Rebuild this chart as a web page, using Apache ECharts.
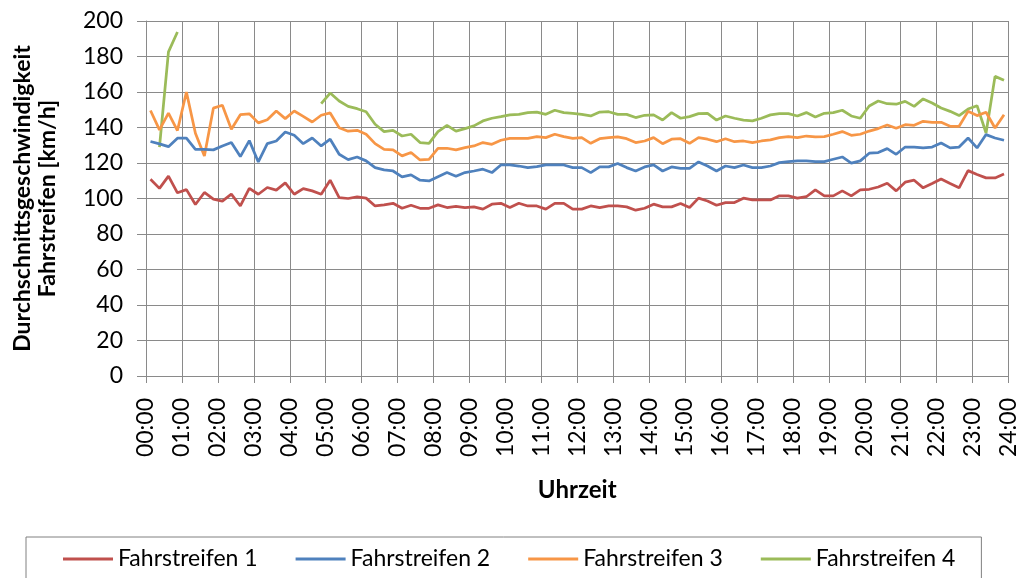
<!DOCTYPE html>
<html>
<head>
<meta charset="utf-8">
<script src="https://cdn.jsdelivr.net/npm/echarts@6/dist/echarts.min.js"></script>
<style>
  html, body { margin: 0; padding: 0; background: #fff; }
  #chart { width: 1020px; height: 578px; }
</style>
</head>
<body>
<div id="chart"></div>
<script>
// Series names
const seriesNames = ['Fahrstreifen 1', 'Fahrstreifen 2', 'Fahrstreifen 3', 'Fahrstreifen 4'];
// 96 quarter-hour intervals (00:00-00:15 ... 23:45-24:00), plotted at interval midpoints
const slotHours = 0.25;
const hourTicks = [0, 24, 1]; // min, max, step of the time axis (hours)

const fahrstreifen1 = [
  110.8, 105.7, 112.6, 103.2, 105.0, 96.6, 103.4, 99.6, 98.5, 102.5, 95.8, 105.7,
  102.4, 106.2, 104.7, 108.8, 102.4, 105.6, 104.3, 102.4, 110.3, 100.5, 100.0, 100.9,
  100.2, 95.8, 96.4, 97.3, 94.5, 96.2, 94.5, 94.5, 96.4, 94.9, 95.5, 94.9,
  95.3, 94.0, 96.8, 97.3, 94.9, 97.3, 95.8, 95.8, 94.0, 97.3, 97.3, 94.0,
  94.0, 95.8, 94.9, 95.8, 95.8, 95.3, 93.4, 94.5, 96.8, 95.3, 95.3, 97.2,
  94.9, 100.2, 98.6, 96.2, 97.7, 97.7, 100.2, 99.2, 99.2, 99.2, 101.5, 101.5,
  100.2, 101.0, 104.9, 101.5, 101.5, 104.3, 101.5, 104.9, 105.2, 106.5, 108.6, 104.3,
  109.2, 110.3, 106.0, 108.4, 111.0, 108.4, 106.0, 115.7, 113.5, 111.6, 111.6, 113.8
];
const fahrstreifen2 = [
  132.1, 130.8, 129.2, 134.0, 134.0, 127.7, 127.7, 127.4, 129.6, 131.5, 123.6, 132.6,
  120.6, 130.9, 132.4, 137.5, 135.6, 130.9, 134.1, 129.6, 133.4, 124.9, 121.9, 123.4,
  121.2, 117.4, 116.1, 115.5, 112.2, 113.3, 110.3, 109.9, 112.3, 114.6, 112.5, 114.6,
  115.5, 116.5, 114.6, 118.9, 118.9, 118.3, 117.4, 118.0, 118.9, 118.9, 118.9, 117.4,
  117.4, 114.6, 117.8, 117.8, 119.7, 117.4, 115.5, 117.8, 118.9, 115.5, 117.8, 117.0,
  117.0, 120.6, 118.3, 115.5, 118.3, 117.4, 118.9, 117.4, 117.4, 118.3, 120.2, 120.8,
  121.2, 121.2, 120.8, 120.8, 122.1, 123.4, 119.9, 121.2, 125.5, 125.9, 128.1, 124.9,
  129.0, 129.0, 128.5, 129.0, 131.3, 128.5, 129.0, 134.1, 128.5, 136.0, 134.1, 132.8
];
const fahrstreifen3 = [
  149.6, 138.7, 148.1, 138.3, 160.0, 136.8, 124.0, 150.9, 152.5, 139.0, 147.2, 147.7,
  142.6, 144.4, 149.3, 145.0, 149.3, 146.3, 143.1, 146.9, 148.2, 139.9, 137.9, 138.4,
  136.2, 130.9, 127.7, 127.4, 124.0, 125.9, 121.7, 122.1, 128.3, 128.3, 127.4, 128.7,
  129.6, 131.5, 130.5, 132.8, 133.9, 133.9, 133.9, 134.9, 134.3, 136.2, 134.9, 133.9,
  134.3, 131.1, 133.7, 134.3, 134.7, 133.7, 131.5, 132.4, 134.3, 130.9, 133.4, 133.7,
  131.1, 134.3, 133.4, 132.0, 133.7, 132.0, 132.4, 131.5, 132.4, 133.0, 134.3, 134.9,
  134.3, 135.2, 134.7, 134.9, 136.2, 137.7, 135.6, 136.2, 138.0, 139.4, 141.4, 139.6,
  141.6, 141.2, 143.5, 142.9, 142.9, 140.7, 140.7, 149.1, 146.7, 148.6, 139.7, 147.2
];
const fahrstreifen4 = [
  null, 128.9, 182.6, 193.8, null, null, null, null, null, null, null, null,
  null, null, null, null, null, null, null, 153.4, 159.4, 154.9, 151.9, 150.6,
  148.9, 141.8, 137.7, 138.4, 135.2, 136.2, 131.5, 131.1, 137.7, 141.2, 138.0, 139.4,
  140.9, 143.7, 145.2, 146.1, 147.1, 147.4, 148.4, 148.7, 147.4, 149.7, 148.4, 148.0,
  147.4, 146.5, 148.7, 148.9, 147.4, 147.4, 145.6, 146.9, 147.1, 144.2, 148.4, 145.2,
  146.1, 147.8, 148.0, 144.2, 146.5, 145.2, 144.2, 143.7, 145.2, 147.1, 147.8, 147.8,
  146.5, 148.4, 145.9, 148.0, 148.4, 149.7, 146.5, 145.2, 152.1, 154.9, 153.4, 153.1,
  154.7, 151.9, 156.1, 153.8, 151.0, 149.1, 146.7, 150.4, 152.3, 136.9, 168.8, 166.6
];
const yTicks = [0, 200, 20];
const colors = ['#C0504D', '#4F81BD', '#F79646', '#9BBB59'];

const allSeries = [fahrstreifen1, fahrstreifen2, fahrstreifen3, fahrstreifen4];
function toPairs(arr) {
  return arr.map((v, i) => [(i + 0.5) * slotHours, v]);
}
function fmtHour(v) {
  const h = Math.round(v);
  return (h < 10 ? '0' : '') + h + ':00';
}

const FONT = 'Lato';
const gridColor = '#8a8a8a';

const chart = echarts.init(document.getElementById('chart'), null, { renderer: 'canvas' });
chart.setOption({
  backgroundColor: '#ffffff',
  animation: false,
  textStyle: { fontFamily: FONT, color: '#000' },
  grid: { left: 146, right: 10, top: 21, bottom: 202, containLabel: false },
  xAxis: {
    type: 'value',
    min: hourTicks[0], max: hourTicks[1], interval: hourTicks[2],
    name: 'Uhrzeit',
    nameLocation: 'middle',
    nameGap: 102,
    nameTextStyle: { fontFamily: FONT, fontWeight: 'bold', fontSize: 24, color: '#000' },
    axisLine: { show: true, onZero: false, lineStyle: { color: gridColor, width: 1 } },
    axisTick: { show: true, length: 7, lineStyle: { color: gridColor } },
    axisLabel: { rotate: 90, margin: 22, fontFamily: FONT, fontSize: 23, color: '#000', formatter: fmtHour },
    splitLine: { show: true, lineStyle: { color: gridColor, width: 1 } }
  },
  yAxis: {
    type: 'value',
    min: yTicks[0], max: yTicks[1], interval: yTicks[2],
    name: 'Durchschnittsgeschwindigkeit\nFahrstreifen [km/h]',
    nameLocation: 'middle',
    nameRotate: 90,
    nameGap: 86,
    nameTextStyle: { fontFamily: FONT, fontWeight: 'bold', fontSize: 23, lineHeight: 25, color: '#000', align: 'center' },
    axisLine: { show: true, lineStyle: { color: gridColor, width: 1 } },
    axisTick: { show: true, length: 9, lineStyle: { color: gridColor } },
    axisLabel: { margin: 23, fontFamily: FONT, fontSize: 23, color: '#000' },
    splitLine: { show: true, lineStyle: { color: gridColor, width: 1 } }
  },
  legend: {
    left: 26,
    top: 537,
    orient: 'horizontal',
    icon: 'rect',
    itemWidth: 50,
    itemHeight: 3,
    itemGap: 38,
    padding: [10, 26, 40, 37],
    borderColor: '#808080',
    borderWidth: 1,
    textStyle: { fontFamily: FONT, fontSize: 23, lineHeight: 24, color: '#000' },
    data: seriesNames
  },
  series: allSeries.map((arr, k) => ({
    name: seriesNames[k],
    type: 'line',
    data: toPairs(arr),
    symbol: 'none',
    connectNulls: false,
    color: colors[k],
    lineStyle: { color: colors[k], width: 2.75 },
    z: 10 - k
  }))
});
</script>
</body>
</html>
